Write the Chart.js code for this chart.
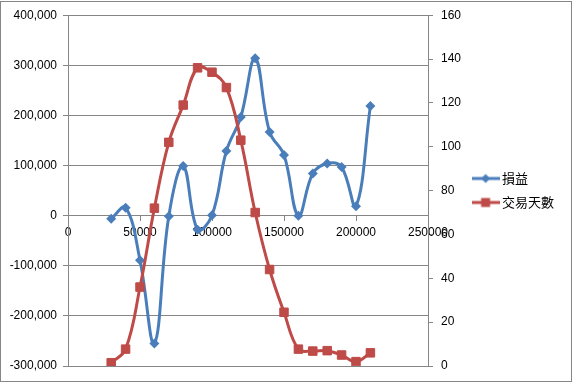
<!DOCTYPE html>
<html>
<head>
<meta charset="utf-8">
<script src="https://cdn.jsdelivr.net/npm/chart.js@4.4.1/dist/chart.umd.min.js"></script>
<style>
  html, body { margin: 0; padding: 0; background: #fff; }
  #wrap { width: 572px; height: 382px; position: relative; }
</style>
</head>
<body>
<div id="wrap"><canvas id="c" width="572" height="382"></canvas></div>
<script>
// ---- data ----
const seriesNames = ['損益', '交易天數'];
const xValues = [30000, 40000, 50000, 60000, 70000, 80000, 90000, 100000, 110000, 120000,
                 130000, 140000, 150000, 160000, 170000, 180000, 190000, 200000, 210000];
const pnl = [-6000, 16000, -89000, -255000, -1000, 99000, -28000, 1000, 129000, 197000,
             314000, 167000, 121000, 0, 84000, 104000, 97000, 19000, 219000];
const days = [1.5, 7.7, 36, 72, 102, 119, 136, 134, 127, 103,
              70, 44, 24.5, 7.7, 6.8, 7, 5, 2, 6];
const leftTicks = { min: -300000, max: 400000, step: 100000 };
const rightTicks = { min: 0, max: 160, step: 20 };
const xTicks = { min: 0, max: 250000, step: 50000 };

const BLUE = '#4A7EBB', RED = '#BE4B48', GRID = '#868686';
const FONT = "'Liberation Sans', Arial, sans-serif";

function legendIcon(color, shape) {
  const c = document.createElement('canvas');
  c.width = 28; c.height = 12;
  const g = c.getContext('2d');
  g.strokeStyle = color; g.lineWidth = 3;
  g.beginPath(); g.moveTo(0, 6); g.lineTo(28, 6); g.stroke();
  g.fillStyle = color;
  g.beginPath();
  if (shape === 'diamond') {
    g.moveTo(14, 1.5); g.lineTo(18.5, 6); g.lineTo(14, 10.5); g.lineTo(9.5, 6); g.closePath();
  } else {
    g.rect(9.5, 1.5, 9, 9);
  }
  g.fill();
  return c;
}
const iconBlue = legendIcon(BLUE, 'diamond');
const iconRed = legendIcon(RED, 'square');

const PAD_R = 14.5;
const PLOT_RIGHT = 428;

const frame = {
  id: 'frame',
  beforeDraw(chart) {
    const ctx = chart.ctx;
    ctx.save();
    ctx.fillStyle = '#fff';
    ctx.fillRect(0, 0, chart.width, chart.height);
    ctx.restore();
  },
  afterDraw(chart) {
    const ctx = chart.ctx;
    ctx.save();
    ctx.strokeStyle = GRID; ctx.lineWidth = 1;
    ctx.strokeRect(0.5, 1.5, chart.width - 1, chart.height - 2);
    ctx.restore();
  }
};

new Chart(document.getElementById('c'), {
  type: 'line',
  data: {
    datasets: [
      {
        label: seriesNames[0],
        data: xValues.map((x, i) => ({ x: x, y: pnl[i] })),
        yAxisID: 'y',
        borderColor: BLUE, backgroundColor: BLUE,
        borderWidth: 3, tension: 0.4,
        pointStyle: 'rectRot', pointRadius: 5, pointBorderWidth: 0,
        pointBackgroundColor: BLUE, pointBorderColor: BLUE,
        order: 1
      },
      {
        label: seriesNames[1],
        data: xValues.map((x, i) => ({ x: x, y: days[i] })),
        yAxisID: 'y1',
        borderColor: RED, backgroundColor: RED,
        borderWidth: 3, tension: 0.4,
        pointStyle: 'rect', pointRadius: 6, pointBorderWidth: 1,
        pointBackgroundColor: RED, pointBorderColor: RED,
        order: 0
      }
    ]
  },
  options: {
    responsive: false,
    animation: false,
    events: [],
    layout: { padding: { left: 0, right: PAD_R, top: 15, bottom: 16 } },
    scales: {
      x: {
        type: 'linear',
        position: { y: 0 },
        min: xTicks.min, max: xTicks.max,
        grid: { display: true, drawOnChartArea: false, drawTicks: true, tickLength: 5, color: GRID },
        border: { display: true, color: GRID },
        ticks: {
          stepSize: xTicks.step, autoSkip: false, maxRotation: 0, padding: 5,
          color: '#000', font: { family: FONT, size: 12 },
          callback: v => String(v)
        }
      },
      y: {
        type: 'linear', position: 'left',
        min: leftTicks.min, max: leftTicks.max,
        grid: { color: GRID, drawTicks: true, tickLength: 5 },
        border: { display: true, color: GRID },
        ticks: {
          stepSize: leftTicks.step, padding: 6, color: '#000',
          font: { family: FONT, size: 12 },
          callback: v => v.toLocaleString('en-US')
        },
        afterFit(s) { s.width = 68; }
      },
      y1: {
        type: 'linear', position: 'right',
        min: rightTicks.min, max: rightTicks.max,
        grid: { drawOnChartArea: false, color: GRID, drawTicks: true, tickLength: 5 },
        border: { display: true, color: GRID },
        ticks: {
          stepSize: rightTicks.step, padding: 8, color: '#000',
          font: { family: FONT, size: 12 }
        },
        afterFit(s) {
          const lg = s.chart.legend;
          const lw = lg && lg.width ? lg.width : 90;
          s.width = s.chart.width - PAD_R - lw - PLOT_RIGHT;
        }
      }
    },
    plugins: {
      tooltip: { enabled: false },
      legend: {
        position: 'right',
        align: 'center',
        labels: {
          usePointStyle: true,
          pointStyleWidth: 20,
          padding: 11,
          color: '#000',
          font: { family: "'Noto Sans CJK TC', 'Noto Sans CJK SC', sans-serif", size: 13 },
          sort: (a, b) => a.datasetIndex - b.datasetIndex,
          generateLabels(chart) {
            return chart.data.datasets.map((ds, i) => ({
              text: ds.label,
              datasetIndex: i,
              pointStyle: i === 0 ? iconBlue : iconRed,
              fillStyle: ds.borderColor,
              strokeStyle: ds.borderColor,
              lineWidth: 0,
              hidden: false,
              fontColor: '#000'
            }));
          }
        }
      }
    }
  },
  plugins: [frame]
});
</script>
</body>
</html>
